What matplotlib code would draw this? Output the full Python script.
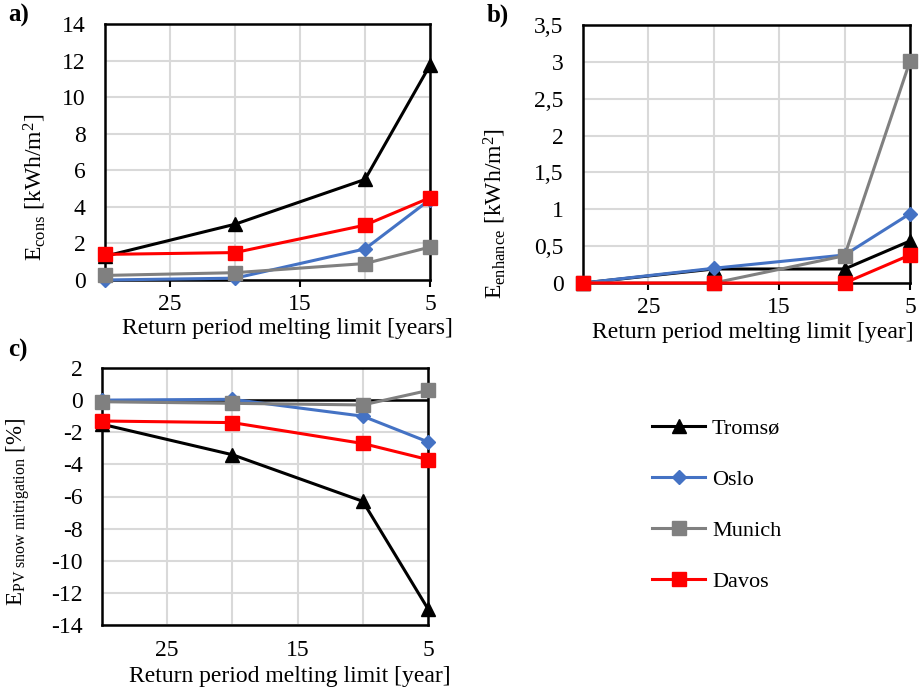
import numpy as np
import matplotlib
matplotlib.use("Agg")
import matplotlib.pyplot as plt
from matplotlib.ticker import FixedLocator, FuncFormatter

plt.rcParams['font.family'] = ['Liberation Serif', 'DejaVu Serif']
plt.rcParams['mathtext.fontset'] = 'custom'
plt.rcParams['mathtext.rm'] = 'Liberation Serif'
plt.rcParams['mathtext.it'] = 'Liberation Serif:italic'
plt.rcParams['font.size'] = 17
plt.rcParams['axes.unicode_minus'] = False

# return period of the melting limit [years]
periods = [30, 20, 10, 5]
cities = ['Tromsø', 'Oslo', 'Munich', 'Davos']

# a) E_cons [kWh/m2]
cons_tromso = [1.3, 3.05, 5.5, 11.75]
cons_oslo = [0.0, 0.1, 1.7, 4.4]
cons_munich = [0.25, 0.4, 0.9, 1.8]
cons_davos = [1.4, 1.5, 3.0, 4.5]

# b) E_enhance [kWh/m2]
enh_tromso = [0.0, 0.19, 0.19, 0.57]
enh_oslo = [0.0, 0.2, 0.38, 0.94]
enh_munich = [0.0, 0.0, 0.37, 3.01]
enh_davos = [0.0, 0.0, 0.0, 0.38]

# c) E_PV snow mitigation [%]
mit_tromso = [-1.5, -3.4, -6.3, -13.0]
mit_oslo = [0.0, 0.05, -1.0, -2.6]
mit_munich = [-0.1, -0.2, -0.3, 0.6]
mit_davos = [-1.3, -1.4, -2.7, -3.7]

colors = ['black', '#4472C4', '#808080', '#FF0000']
markers = ['^', 'D', 's', 's']
msizes = [10, 7, 10, 10]

W, H = 920, 693
fig = plt.figure(figsize=(W / 100, H / 100), dpi=100)


def make_axes(l, r, t, b):
    return fig.add_axes([l / W, 1 - b / H, (r - l) / W, (b - t) / H])


ax_a = make_axes(105, 430, 24, 280)
ax_b = make_axes(583, 910, 25, 283)
ax_c = make_axes(102, 428, 368, 625)


def draw(ax, series):
    lines = []
    for vals, c, m, ms, name in zip(series, colors, markers, msizes, cities):
        ln, = ax.plot(periods, vals, color=c, marker=m, markersize=ms, lw=2.2,
                      label=name, clip_on=False, zorder=3)
        lines.append(ln)
    ax.set_xlim(30, 5)
    ax.xaxis.set_major_locator(FixedLocator([25, 15, 5]))
    ax.xaxis.set_minor_locator(FixedLocator([30, 20, 10]))
    ax.grid(True, which='both', color='#d9d9d9', lw=1.5, zorder=0)
    ax.set_axisbelow(True)
    for s in ax.spines.values():
        s.set_linewidth(1.8)
    ax.tick_params(axis='x', which='major', direction='out', length=5, width=1.5, pad=5)
    ax.tick_params(axis='x', which='minor', length=0)
    ax.tick_params(axis='y', length=0, pad=14)
    return lines


handles = draw(ax_a, [cons_tromso, cons_oslo, cons_munich, cons_davos])
ax_a.set_ylim(0, 14)
ax_a.set_yticks(np.arange(0, 15, 2))
ax_a.set_ylabel(r'$\mathrm{E_{cons}}$ [kWh/m$^2$]')
ax_a.yaxis.set_label_coords(-0.175, 0.36)
ax_a.set_xlabel('Return period melting limit [years]')
ax_a.xaxis.set_label_coords(0.56, -0.15)

draw(ax_b, [enh_tromso, enh_oslo, enh_munich, enh_davos])
ax_b.set_ylim(0, 3.5)
ax_b.set_yticks(np.arange(0, 3.51, 0.5))
ax_b.yaxis.set_major_formatter(FuncFormatter(lambda v, p: f'{v:g}'.replace('.', ',')))
ax_b.set_ylabel(r'$\mathrm{E_{enhance}}$ [kWh/m$^2$]')
ax_b.yaxis.set_label_coords(-0.23, 0.27)
ax_b.set_xlabel('Return period melting limit [year]')
ax_b.xaxis.set_label_coords(0.52, -0.15)

draw(ax_c, [mit_tromso, mit_oslo, mit_munich, mit_davos])
ax_c.set_ylim(-14, 2)
ax_c.set_yticks(np.arange(-14, 3, 2))
ax_c.axhline(0, color='black', lw=1.8, zorder=2)
ax_c.tick_params(axis='x', which='major', length=0, pad=11)
ax_c.set_ylabel(r'$\mathrm{E_{PV\ snow\ mitrigation}}$ [%]', fontsize=16.5)
ax_c.yaxis.set_label_coords(-0.215, 0.44)
ax_c.set_xlabel('Return period melting limit [year]')
ax_c.xaxis.set_label_coords(0.577, -0.16)

for lab, x, y in [('a)', 8, 15), ('b)', 487, 15), ('c)', 8, 350)]:
    fig.text(x / W, 1 - y / H, lab, fontweight='bold', fontsize=18, va='center')

fig.legend(handles=handles, labels=cities, loc='upper left',
           bbox_to_anchor=(632 / W, 1 - 398 / H), frameon=False, fontsize=16,
           handlelength=2.4, labelspacing=1.38, handletextpad=0.3)

fig.savefig('out.png', dpi=100)
